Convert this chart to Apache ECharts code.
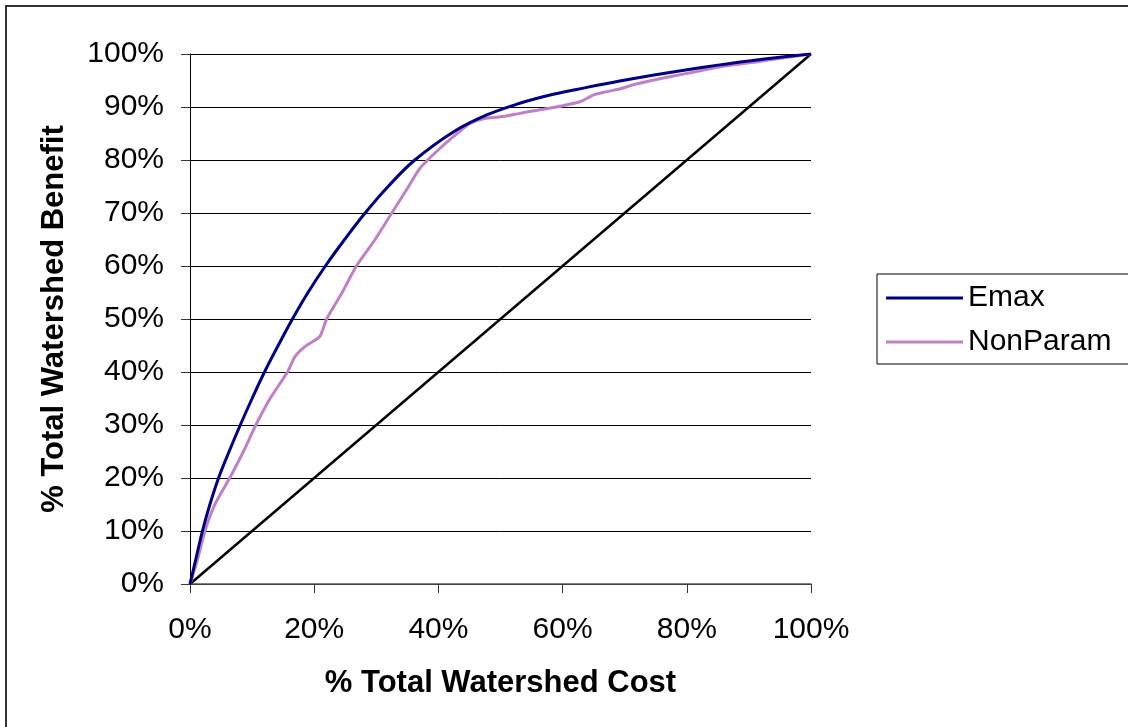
<!DOCTYPE html>
<html>
<head>
<meta charset="utf-8">
<script src="https://cdn.jsdelivr.net/npm/echarts@6/dist/echarts.min.js"></script>
<style>
html,body{margin:0;padding:0;background:#fff;}
#chart{width:1128px;height:727px;}
</style>
</head>
<body>
<div id="chart"></div>
<script>
// Data (percent values)
const emaxX = [0, 1.0, 2.0, 3.2, 4.6, 6.3, 8.1, 10.0, 12.0, 14.2, 16.5, 19.0, 21.8, 24.9, 28.2, 31.9, 36.2, 42.4, 47.8, 53.1, 58.5, 63.9, 69.2, 74.5, 79.8, 85.0, 90.0, 95.0, 100];
const emaxY = [0, 5, 10, 15, 20, 25, 30, 35, 40, 45, 50, 55, 60, 65, 70, 75, 80, 85.3, 88.5, 90.7, 92.4, 93.7, 94.9, 96.0, 97.0, 97.9, 98.7, 99.4, 100];

const nonParamX = [0, 1.3, 2.4, 4.0, 6.4, 8.6, 10.6, 12.9, 15.7, 16.9, 18.5, 20.9, 22.0, 24.5, 26.8, 29.8, 32.5, 35.2, 37.0, 39.7, 42.4, 45.1, 47.8, 50.5, 53.1, 58.5, 62.8, 65.0, 67.1, 69.2, 71.4, 76.8, 81.6, 85.4, 92.3, 100];
const nonParamY = [0, 5, 10, 15, 20, 25, 30, 35, 40, 42.9, 44.8, 46.7, 50, 55, 60, 65, 70, 75, 78.4, 81.6, 84.4, 86.9, 87.9, 88.2, 88.8, 89.9, 91.0, 92.3, 92.9, 93.4, 94.2, 95.6, 96.7, 97.6, 98.7, 100];

const diagX = [0, 100];
const diagY = [0, 100];

const xTicks = [0, 20, 40, 60, 80, 100];
const yTicks = [0, 10, 20, 30, 40, 50, 60, 70, 80, 90, 100];

function pairs(xs, ys) { return xs.map((x, i) => [x, ys[i]]); }

const FONT = 'Liberation Sans, Arial, sans-serif';
const chart = echarts.init(document.getElementById('chart'), null, {renderer: 'canvas'});
chart.setOption({
  backgroundColor: '#fff',
  animation: false,
  graphic: [{
    type: 'rect', silent: true,
    shape: {x: 6, y: 6, width: 1300, height: 900},
    style: {fill: 'none', stroke: '#333', lineWidth: 2}
  }],
  grid: {left: 190, right: 317, top: 54, bottom: 143, containLabel: false},
  legend: {
    data: [{name: 'Emax', icon: 'rect'}, {name: 'NonParam', icon: 'rect'}],
    orient: 'vertical',
    left: 877, top: 274,
    itemWidth: 77, itemHeight: 3, itemGap: 14,
    padding: [9, 30, 7, 9],
    borderColor: '#000', borderWidth: 1,
    textStyle: {fontFamily: FONT, fontSize: 30, color: '#000', lineHeight: 30},
    selectedMode: false
  },
  xAxis: {
    type: 'value', min: xTicks[0], max: xTicks[xTicks.length - 1], interval: 20,
    name: '% Total Watershed Cost', nameLocation: 'middle', nameGap: 84,
    nameTextStyle: {fontFamily: FONT, fontSize: 31, fontWeight: 'bold', color: '#000'},
    axisLine: {show: true, onZero: false, lineStyle: {color: '#555', width: 1.5}},
    axisTick: {show: true, length: 9, lineStyle: {color: '#333', width: 1}},
    axisLabel: {fontFamily: FONT, fontSize: 30, color: '#000', margin: 31, formatter: '{value}%'},
    splitLine: {show: false}
  },
  yAxis: {
    type: 'value', min: yTicks[0], max: yTicks[yTicks.length - 1], interval: 10,
    name: '% Total Watershed Benefit', nameLocation: 'middle', nameGap: 120,
    nameTextStyle: {fontFamily: FONT, fontSize: 31, fontWeight: 'bold', color: '#000'},
    axisLine: {show: true, onZero: false, lineStyle: {color: '#000', width: 1}},
    axisTick: {show: true, length: 9, lineStyle: {color: '#333', width: 1}},
    axisLabel: {fontFamily: FONT, fontSize: 30, color: '#000', margin: 26, formatter: '{value}%'},
    splitLine: {show: true, lineStyle: {color: '#000', width: 1}}
  },
  series: [
    {
      name: 'Emax', type: 'line', data: pairs(emaxX, emaxY),
      symbol: 'none', smooth: 0.4, color: '#000080',
      lineStyle: {color: '#000080', width: 3}, z: 4
    },
    {
      name: 'NonParam', type: 'line', data: pairs(nonParamX, nonParamY),
      symbol: 'none', smooth: 0.2, color: '#c080c8',
      lineStyle: {color: '#c080c8', width: 3}, z: 3
    },
    {
      name: 'Diagonal', type: 'line', data: pairs(diagX, diagY),
      symbol: 'none', color: '#000',
      lineStyle: {color: '#000', width: 2.5}, z: 2
    }
  ]
});
</script>
</body>
</html>
